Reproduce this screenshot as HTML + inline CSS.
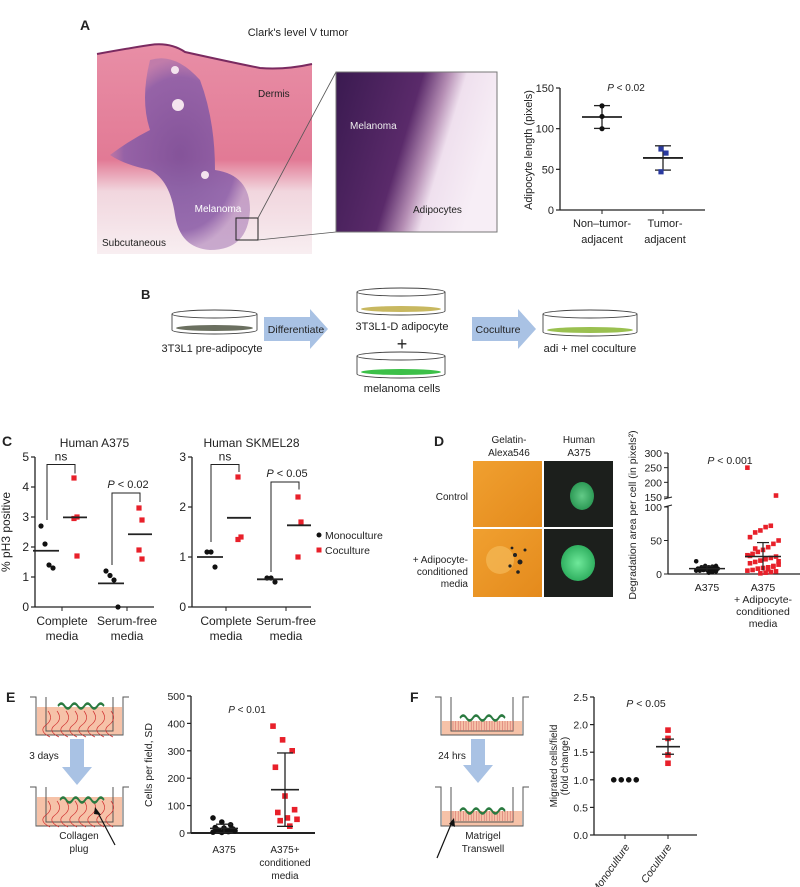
<!DOCTYPE html>
<html><head><meta charset="utf-8"><style>
body{margin:0;background:#fff}
svg{display:block;font-family:"Liberation Sans",sans-serif}
text{fill:#222}
</style></head><body>
<svg id="fig" width="800" height="887" viewBox="0 0 800 887" xmlns="http://www.w3.org/2000/svg">
<defs>
<radialGradient id="tum" cx="0.5" cy="0.5" r="0.5"><stop offset="0" stop-color="#7a4f9a"/><stop offset="0.8" stop-color="#8d5fa8"/><stop offset="1" stop-color="#a070b0" stop-opacity="0.6"/></radialGradient>
<linearGradient id="ins" x1="0" x2="1" y1="0" y2="0.3"><stop offset="0" stop-color="#3a1a50"/><stop offset="0.5" stop-color="#5a2a6a"/><stop offset="0.65" stop-color="#b68fb5"/><stop offset="0.75" stop-color="#efe0ee"/><stop offset="1" stop-color="#f7eef6"/></linearGradient>
<linearGradient id="dermis" x1="0" x2="0" y1="0" y2="1"><stop offset="0" stop-color="#e88ea6"/><stop offset="0.55" stop-color="#e27a95"/><stop offset="0.7" stop-color="#f1d6de"/><stop offset="1" stop-color="#f8eef1"/></linearGradient>
<linearGradient id="gel" x1="0" x2="1" y1="0" y2="1"><stop offset="0" stop-color="#f0a030"/><stop offset="1" stop-color="#e48a1c"/></linearGradient>
<radialGradient id="cell" cx="0.5" cy="0.5" r="0.5"><stop offset="0" stop-color="#6fe89a"/><stop offset="1" stop-color="#30b060"/></radialGradient>
</defs>

<!-- Panel A -->
<text x="80" y="30" font-size="14" font-weight="bold">A</text>
<text x="298" y="36" font-size="11" text-anchor="middle">Clark's level V tumor</text>
<g>
<path d="M97,54 Q130,48 150,45 Q170,42 185,52 Q230,62 260,68 Q285,70 312,64 L312,254 L97,254 Z" fill="url(#dermis)"/>
<path d="M97,54 Q130,48 150,45 Q170,42 185,52 Q230,62 260,68 Q285,70 312,64" fill="none" stroke="#7a2a60" stroke-width="2"/>
<path d="M150,60 Q175,52 200,80 Q215,120 215,170 Q250,175 250,210 Q248,250 210,250 Q180,248 175,215 Q170,180 150,170 Q125,165 110,155 Q130,140 150,130 Q140,100 150,60 Z" fill="url(#tum)" opacity="0.9"/>
<circle cx="178" cy="105" r="6" fill="#f4e4ee"/><circle cx="175" cy="70" r="4" fill="#f4e4ee"/><circle cx="205" cy="175" r="4" fill="#f4e4ee"/>
<rect x="236" y="218" width="22" height="22" fill="none" stroke="#222" stroke-width="1"/>
<text x="258" y="97" font-size="10" fill="#333">Dermis</text>
<text x="218" y="212" font-size="10" text-anchor="middle" style="fill:#fff">Melanoma</text>
<text x="102" y="246" font-size="10">Subcutaneous</text>
</g>
<line x1="258" y1="218" x2="336" y2="72" stroke="#555" stroke-width="0.8"/>
<line x1="258" y1="240" x2="336" y2="232" stroke="#555" stroke-width="0.8"/>
<g>
<rect x="336" y="72" width="161" height="160" fill="url(#ins)" stroke="#777"/>
<text x="350" y="129" font-size="10" style="fill:#eee">Melanoma</text>
<text x="413" y="213" font-size="10" fill="#333">Adipocytes</text>
</g>
<g id="chartA"></g>

<!-- Panel B -->
<text x="141" y="299" font-size="13" font-weight="bold">B</text>
<g id="panelB"></g>

<!-- Panel C -->
<text x="2" y="446" font-size="14" font-weight="bold">C</text>
<g id="chartC1"></g>
<g id="chartC2"></g>
<g>
<circle cx="319" cy="535" r="2.5" fill="#111"/><text x="325" y="539" font-size="10.5">Monoculture</text>
<rect x="316.5" y="547.5" width="5" height="5" fill="#e8202a"/><text x="325" y="554" font-size="10.5">Coculture</text>
</g>

<!-- Panel D -->
<text x="434" y="446" font-size="14" font-weight="bold">D</text>
<text x="509" y="443" font-size="10" text-anchor="middle">Gelatin-</text>
<text x="509" y="456" font-size="10" text-anchor="middle">Alexa546</text>
<text x="579" y="443" font-size="10" text-anchor="middle">Human</text>
<text x="579" y="456" font-size="10" text-anchor="middle">A375</text>
<text x="468" y="500" font-size="10" text-anchor="end">Control</text>
<text x="468" y="563" font-size="10" text-anchor="end">+ Adipocyte-</text>
<text x="468" y="575" font-size="10" text-anchor="end">conditioned</text>
<text x="468" y="587" font-size="10" text-anchor="end">media</text>
<g>
<rect x="473" y="461" width="69" height="66" fill="url(#gel)"/>
<rect x="544" y="461" width="69" height="66" fill="#1c1f1c"/>
<ellipse cx="582" cy="496" rx="12" ry="14" fill="url(#cell)" opacity="0.85"/>
<rect x="473" y="529" width="69" height="68" fill="url(#gel)"/>
<circle cx="500" cy="560" r="14" fill="#f6c060" opacity="0.6"/>
<g fill="#222"><circle cx="515" cy="555" r="2"/><circle cx="520" cy="562" r="2.5"/><circle cx="510" cy="566" r="1.6"/><circle cx="525" cy="550" r="1.5"/><circle cx="518" cy="572" r="1.8"/><circle cx="512" cy="548" r="1.4"/></g>
<rect x="544" y="529" width="69" height="68" fill="#1c1f1c"/>
<ellipse cx="578" cy="563" rx="17" ry="18" fill="url(#cell)"/>
</g>
<g id="chartD"></g>

<!-- Panel E -->
<text x="6" y="702" font-size="14" font-weight="bold">E</text>
<g id="wellsE"></g>
<g id="chartE"></g>

<!-- Panel F -->
<text x="410" y="702" font-size="14" font-weight="bold">F</text>
<g id="wellsF"></g>
<g id="chartF"></g>
</svg>

<script>
// ---- data ----
const aCategories = ["Non\u2013tumor-adjacent", "Tumor-adjacent"];
const aNonTumor = [128, 115, 100];
const aTumor = [75, 70, 47];
const aTicks = [0, 50, 100, 150];

const cA375MonoComplete = [2.7, 2.1, 1.4, 1.3];
const cA375CoComplete = [4.3, 3.0, 2.95, 1.7];
const cA375MonoSerum = [1.2, 1.05, 0.9, 0.0];
const cA375CoSerum = [3.3, 2.9, 1.9, 1.6];
const cA375Ticks = [0, 1, 2, 3, 4, 5];
const cSkMonoComplete = [1.1, 1.1, 0.8];
const cSkCoComplete = [2.6, 1.4, 1.35];
const cSkMonoSerum = [0.58, 0.58, 0.5];
const cSkCoSerum = [2.2, 1.7, 1.0];
const cSkTicks = [0, 1, 2, 3];

const dControl = [19, 12, 11, 10, 9, 9, 8, 8, 7, 7, 6, 6, 5, 5, 4, 3, 2, 12, 10, 8];
const dConditioned = [250, 155, 72, 70, 65, 62, 55, 50, 45, 40, 36, 33, 30, 28, 26, 24, 22, 20, 18, 16, 14, 12, 10, 9, 8, 6, 5, 4, 3, 2, 1, 38, 27, 19, 11, 7];
const dTicksLow = [0, 50, 100];
const dTicksHigh = [150, 200, 250, 300];

const eA375 = [55, 40, 30, 20, 18, 15, 12, 10, 8, 6, 5, 3, 2, 12];
const eConditioned = [390, 340, 300, 240, 135, 85, 75, 55, 50, 45, 25];
const eTicks = [0, 100, 200, 300, 400, 500];

const fMono = [1, 1, 1, 1];
const fCo = [1.9, 1.75, 1.45, 1.3];
const fTicks = [0.0, 0.5, 1.0, 1.5, 2.0, 2.5];

// ---- helpers ----
const NS = "http://www.w3.org/2000/svg";
function el(tag, attrs, parent, txt) {
  const e = document.createElementNS(NS, tag);
  for (const k in attrs) e.setAttribute(k, attrs[k]);
  if (txt !== undefined) e.textContent = txt;
  parent.appendChild(e);
  return e;
}
function mean(a) { return a.reduce((s, v) => s + v, 0) / a.length; }
function sd(a) { const m = mean(a); return Math.sqrt(a.reduce((s, v) => s + (v - m) * (v - m), 0) / (a.length - 1)); }
function lin(d0, d1, r0, r1) { return v => r0 + (v - d0) * (r1 - r0) / (d1 - d0); }
function yAxis(g, x, y, ticks, fmt, fs) {
  const top = Math.min(...ticks.map(y)), bot = Math.max(...ticks.map(y));
  const ax = el('line', {x1: x, y1: top, x2: x, y2: bot, stroke: '#222', 'stroke-width': 1.3}, g);
  
  
  ticks.forEach(t => {
    el('line', {x1: x - 4, y1: y(t), x2: x, y2: y(t), stroke: '#222', 'stroke-width': 1.2}, g);
    const tl = el('text', {x: x - 6, y: y(t) + 4, 'font-size': fs || 11, 'text-anchor': 'end'}, g, fmt ? fmt(t) : t);
    
    
  });
}
function dot(g, cx, cy, color, square, r) {
  r = r || 2.6;
  let m;
  if (square) m = el('rect', {x: cx - r, y: cy - r, width: 2 * r, height: 2 * r, fill: color}, g);
  else m = el('circle', {cx: cx, cy: cy, r: r, fill: color}, g);
  
  
}
function spread(n, i, w) { return n <= 1 ? 0 : (i - (n - 1) / 2) * w; }
function hline(g, x1, x2, yy, sw) { el('line', {x1: x1, y1: yy, x2: x2, y2: yy, stroke: '#222', 'stroke-width': sw || 1.8}, g); }
function text(g, x, y, s, fs, anchor, extra) {
  return el('text', Object.assign({x: x, y: y, 'font-size': fs, 'text-anchor': anchor || 'middle'}, extra || {}), g, s);
}
function ptext(g, x, y, val, fs) {
  const t = el('text', {x: x, y: y, 'font-size': fs || 10, 'text-anchor': 'middle'}, g);
  el('tspan', {'font-style': 'italic'}, t, 'P');
  el('tspan', {}, t, ' < ' + val);
  
  
}

// ---- Chart A ----
(function () {
  const g = document.getElementById('chartA');
  const y = lin(0, 150, 210, 88);
  const xs = [602, 663];
  yAxis(g, 560, y, aTicks);
  hline(g, 560, 705, 210, 1.3);
  xs.forEach(x => el('line', {x1: x, y1: 210, x2: x, y2: 214, stroke: '#222'}, g));
  const t = text(g, 532, 150, 'Adipocyte length (pixels)', 11, 'middle', {transform: 'rotate(-90 532 150)'});
  
  ptext(g, 626, 91, '0.02', 10);
  [[aNonTumor, '#111', false], [aTumor, '#2a3aa0', true]].forEach((s, i) => {
    const v = s[0], m = mean(v), e = sd(v);
    el('line', {x1: xs[i], y1: y(m - e), x2: xs[i], y2: y(m + e), stroke: '#222', 'stroke-width': 1.3}, g);
    hline(g, xs[i] - 8, xs[i] + 8, y(m + e), 1.3);
    hline(g, xs[i] - 8, xs[i] + 8, y(m - e), 1.3);
    hline(g, xs[i] - 20, xs[i] + 20, y(m), 1.8);
    v.forEach((val, j) => dot(g, xs[i] + (s[2] ? (j === 1 ? 3 : -2) : 0), y(val), s[1], s[2], 2.6));
  });
  text(g, 602, 227, 'Non\u2013tumor-', 11); text(g, 602, 243, 'adjacent', 11);
  text(g, 665, 227, 'Tumor-', 11); text(g, 665, 243, 'adjacent', 11);
})();

// ---- Panel B ----
(function () {
  const g = document.getElementById('panelB');
  function dish(x1, x2, y1, y2, fill) {
    const cx = (x1 + x2) / 2, rx = (x2 - x1) / 2, ry = 4;
    el('path', {d: `M${x1},${y1} L${x1},${y2} A${rx},${ry} 0 0 0 ${x2},${y2} L${x2},${y1}`, fill: '#fff', stroke: '#444', 'stroke-width': 0.9}, g);
    el('ellipse', {cx: cx, cy: y2 - 2, rx: rx - 4, ry: 3, fill: fill}, g);
    el('ellipse', {cx: cx, cy: y1, rx: rx, ry: ry, fill: '#fff', stroke: '#444', 'stroke-width': 0.9}, g);
  }
  dish(172, 257, 314, 330, '#6b7060');
  dish(357, 445, 292, 311, '#c8b860');
  dish(357, 445, 356, 374, '#3cc048');
  dish(543, 637, 314, 332, '#9ac050');
  function arrow(x1, x2, yc) {
    el('path', {d: `M${x1},${yc - 12} L${x2 - 18},${yc - 12} L${x2 - 18},${yc - 20} L${x2},${yc} L${x2 - 18},${yc + 20} L${x2 - 18},${yc + 12} L${x1},${yc + 12} Z`, fill: '#a9c2e4'}, g);
  }
  arrow(264, 328, 329);
  arrow(472, 536, 329);
  text(g, 212, 352, '3T3L1 pre-adipocyte', 11);
  text(g, 296, 333, 'Differentiate', 10.5);
  text(g, 402, 330, '3T3L1-D adipocyte', 11);
  text(g, 402, 350, '+', 18);
  text(g, 402, 392, 'melanoma cells', 11);
  text(g, 498, 333, 'Coculture', 10.5);
  text(g, 590, 352, 'adi + mel coculture', 11);
})();

// ---- Chart C ----
function chartC(id, ax, ticks, max, xs, groups, title, brackets) {
  const g = document.getElementById(id);
  const y = lin(0, max, 607, 457);
  yAxis(g, ax, y, ticks, null, 12);
  hline(g, ax, ax + 119, 607, 1.3);
  xs.forEach(x => el('line', {x1: x, y1: 607, x2: x, y2: 611, stroke: '#222'}, g));
  text(g, (ax + ax + 119) / 2, 447, title, 12);
  groups.forEach((gr, i) => {
    const xm = xs[i] - 15, xc = xs[i] + 13;
    gr[0].forEach((v, j) => dot(g, xm + spread(gr[0].length, j, 4), y(v), '#111', false, 2.6));
    gr[1].forEach((v, j) => dot(g, xc + (j % 2 ? 2 : -1), y(v), '#e8202a', true, 2.6));
    hline(g, xm - 14, xm + 12, y(mean(gr[0])), 1.8);
    hline(g, xc - 12, xc + 12, y(mean(gr[1])), 1.8);
    const b = brackets[i];
    el('path', {d: `M${xm},${y(b[0])} L${xm},${y(b[1])} L${xc},${y(b[1])} L${xc},${y(b[2])}`, fill: 'none', stroke: '#222', 'stroke-width': 1}, g);
    if (b[3] === 'ns') text(g, (xm + xc) / 2, y(b[1]) - 4, 'ns', 12);
    else ptext(g, (xm + xc) / 2 + 2, y(b[1]) - 5, b[3], 11);
    text(g, xs[i], 625, i === 0 ? 'Complete' : 'Serum-free', 12);
    text(g, xs[i], 640, 'media', 12);
  });
}
chartC('chartC1', 35, cA375Ticks, 5, [62, 127],
  [[cA375MonoComplete, cA375CoComplete], [cA375MonoSerum, cA375CoSerum]],
  'Human A375', [[2.9, 4.75, 4.45, 'ns'], [1.4, 3.8, 3.5, '0.02']]);
chartC('chartC2', 192, cSkTicks, 3, [226, 286],
  [[cSkMonoComplete, cSkCoComplete], [cSkMonoSerum, cSkCoSerum]],
  'Human SKMEL28', [[1.3, 2.85, 2.7, 'ns'], [0.7, 2.5, 2.35, '0.05']]);
(function () {
  const g = document.getElementById('chartC1');
  const t = text(g, 10, 532, '% pH3 positive', 12, 'middle', {transform: 'rotate(-90 10 532)'});
  
})();

// ---- Chart D ----
(function () {
  const g = document.getElementById('chartD');
  const yLow = lin(0, 100, 574, 507);
  const yHigh = lin(150, 300, 497, 453);
  const y = v => v <= 100 ? yLow(v) : yHigh(v);
  const ax = 668;
  el('line', {x1: ax, y1: 453, x2: ax, y2: 498, stroke: '#222', 'stroke-width': 1.3}, g);
  el('line', {x1: ax, y1: 506, x2: ax, y2: 574, stroke: '#222', 'stroke-width': 1.3}, g);
  el('line', {x1: ax - 4, y1: 499, x2: ax + 4, y2: 497, stroke: '#222'}, g);
  el('line', {x1: ax - 4, y1: 507, x2: ax + 4, y2: 505, stroke: '#222'}, g);
  dTicksLow.concat(dTicksHigh).forEach(t => {
    el('line', {x1: ax - 4, y1: y(t), x2: ax, y2: y(t), stroke: '#222'}, g);
    text(g, ax - 6, y(t) + 4, t, 10.5, 'end');
  });
  hline(g, ax, 800, 574, 1.3);
  const xs = [707, 763];
  const t = text(g, 636, 515, 'Degradation area per cell (in pixels\u00b2)', 10.5, 'middle', {transform: 'rotate(-90 636 515)'});
  
  ptext(g, 730, 464, '0.001', 10.5);
  [[dControl, '#111', false], [dConditioned, '#e8202a', true]].forEach((s, i) => {
    const v = s[0];
    const inRange = v.filter(q => q <= 100), e = sd(inRange);
    v.forEach((val, j) => dot(g, xs[i] + ((j * 37) % 13 - 6) * (i ? 2.6 : 1.8), y(val), s[1], s[2], 2.3));
    el('line', {x1: xs[i], y1: y(Math.max(0, mean(inRange) - e)), x2: xs[i], y2: y(mean(inRange) + e), stroke: '#222', 'stroke-width': 1.2}, g);
    hline(g, xs[i] - 6, xs[i] + 6, y(mean(inRange) + e), 1.2);
    hline(g, xs[i] - 18, xs[i] + 18, y(mean(inRange)), 1.5);
  });
  text(g, 707, 591, 'A375', 10.5);
  text(g, 763, 591, 'A375', 10.5);
  text(g, 763, 603, '+ Adipocyte-', 10.5);
  text(g, 763, 615, 'conditioned', 10.5);
  text(g, 763, 627, 'media', 10.5);
})();

// ---- Wells E & F ----
function well(g, x1, x2, y1, y2, fillTop, style) {
  el('rect', {x: x1 + 1, y: fillTop, width: x2 - x1 - 2, height: y2 - fillTop, fill: '#f6c2a8'}, g);
  el('path', {d: `M${x1 - 6},${y1} L${x1},${y1} L${x1},${y2} L${x2},${y2} L${x2},${y1} L${x2 + 6},${y1}`, fill: 'none', stroke: '#555', 'stroke-width': 1}, g);
  el('path', {d: `M${x1 + 10},${y1} L${x1 + 10},${y2 - 4} L${x2 - 10},${y2 - 4} L${x2 - 10},${y1}`, fill: 'none', stroke: '#555', 'stroke-width': 1}, g);
  if (style === 'collagen') {
    for (let i = 0; i < 8; i++) el('path', {d: `M${x1 + 12 + i * 9},${fillTop + 4} q6,8 -2,14 t4,12`, fill: 'none', stroke: '#d03030', 'stroke-width': 0.7}, g);
  } else {
    for (let i = 0; i < 24; i++) el('line', {x1: x1 + 12 + i * 2.6, y1: fillTop, x2: x1 + 12 + i * 2.6, y2: fillTop + 10, stroke: '#d06060', 'stroke-width': 0.5}, g);
  }
}
function cellsBlob(g, x1, x2, yy) {
  el('path', {d: `M${x1},${yy} q5,-5 10,0 t10,0 t10,0 t10,0 t10,0 t10,0 t10,0`, fill: 'none', stroke: '#2a7a40', 'stroke-width': 2.5, transform: `scale(${(x2 - x1) / 70},1) translate(${x1 * (70 / (x2 - x1) - 1)},0)`}, g);
}
function downArrow(g, cx, y1, y2) {
  el('path', {d: `M${cx - 7},${y1} L${cx + 7},${y1} L${cx + 7},${y2 - 18} L${cx + 15},${y2 - 18} L${cx},${y2} L${cx - 15},${y2 - 18} L${cx - 7},${y2 - 18} Z`, fill: '#a9c2e4'}, g);
}
(function () {
  const g = document.getElementById('wellsE');
  well(g, 36, 123, 697, 735, 707, 'collagen');
  cellsBlob(g, 58, 104, 706);
  downArrow(g, 77, 739, 785);
  text(g, 44, 759, '3 days', 10);
  well(g, 36, 123, 787, 826, 797, 'collagen');
  cellsBlob(g, 60, 104, 800);
  el('line', {x1: 115, y1: 845, x2: 97, y2: 811, stroke: '#111', 'stroke-width': 1.2}, g);
  el('path', {d: 'M95,807 L101,815 L94,814 Z', fill: '#111'}, g);
  text(g, 79, 839, 'Collagen', 10); text(g, 79, 852, 'plug', 10);
})();
(function () {
  const g = document.getElementById('wellsF');
  well(g, 441, 523, 697, 735, 721, 'matrigel');
  cellsBlob(g, 460, 505, 718);
  downArrow(g, 478, 739, 783);
  text(g, 452, 759, '24 hrs', 10);
  well(g, 441, 523, 787, 826, 811, 'matrigel');
  cellsBlob(g, 460, 505, 811);
  el('line', {x1: 437, y1: 858, x2: 452, y2: 822, stroke: '#111', 'stroke-width': 1.2}, g);
  el('path', {d: 'M454,818 L455,827 L449,824 Z', fill: '#111'}, g);
  text(g, 483, 839, 'Matrigel', 10); text(g, 483, 852, 'Transwell', 10);
})();

// ---- Chart E ----
(function () {
  const g = document.getElementById('chartE');
  const y = lin(0, 500, 833, 696);
  yAxis(g, 191, y, eTicks, null, 10.5);
  hline(g, 191, 315, 833, 2);
  const xs = [224, 285];
  const t = text(g, 152, 765, 'Cells per field, SD', 10.5, 'middle', {transform: 'rotate(-90 152 765)'});
  
  ptext(g, 247, 713, '0.01', 10);
  [[eA375, '#111', false], [eConditioned, '#e8202a', true]].forEach((s, i) => {
    const v = s[0], m = mean(v), e = sd(v);
    v.forEach((val, j) => dot(g, xs[i] + ((j * 37) % 11 - 5) * (i ? 2.4 : 2.2), y(val), s[1], s[2], 2.8));
    el('line', {x1: xs[i], y1: y(Math.max(0, m - e)), x2: xs[i], y2: y(m + e), stroke: '#222', 'stroke-width': 1.3}, g);
    hline(g, xs[i] - 8, xs[i] + 8, y(m + e), 1.3);
    hline(g, xs[i] - 8, xs[i] + 8, y(Math.max(0, m - e)), 1.3);
    hline(g, xs[i] - 14, xs[i] + 14, y(m), 1.6);
  });
  text(g, 224, 853, 'A375', 10);
  text(g, 285, 853, 'A375+', 10);
  text(g, 285, 866, 'conditioned', 10);
  text(g, 285, 879, 'media', 10);
})();

// ---- Chart F ----
(function () {
  const g = document.getElementById('chartF');
  const y = lin(0, 2.5, 835, 697);
  yAxis(g, 594, y, fTicks, v => v.toFixed(1), 10.5);
  hline(g, 594, 697, 835, 1.3);
  const xs = [625, 668];
  xs.forEach(x => el('line', {x1: x, y1: 835, x2: x, y2: 839, stroke: '#222'}, g));
  const t = text(g, 557, 766, 'Migrated cells/field', 10, 'middle', {transform: 'rotate(-90 557 766)'});
  
  text(g, 568, 766, '(fold change)', 10, 'middle', {transform: 'rotate(-90 568 766)'});
  ptext(g, 646, 707, '0.05', 10.5);
  fMono.forEach((v, j) => dot(g, xs[0] + spread(fMono.length, j, 7.5), y(v), '#111', false, 2.8));
  fCo.forEach((v, j) => dot(g, xs[1], y(v), '#e8202a', true, 2.8));
  const m = mean(fCo), se = sd(fCo) / Math.sqrt(fCo.length);
  el('line', {x1: xs[1], y1: y(m - se), x2: xs[1], y2: y(m + se), stroke: '#222', 'stroke-width': 1.3}, g);
  hline(g, xs[1] - 6, xs[1] + 6, y(m + se), 1.3);
  hline(g, xs[1] - 6, xs[1] + 6, y(m - se), 1.3);
  hline(g, xs[1] - 12, xs[1] + 12, y(m), 1.6);
  text(g, 630, 847, 'Monoculture', 10.5, 'end', {transform: 'rotate(-55 630 847)', 'font-style': 'italic'});
  text(g, 672, 847, 'Coculture', 10.5, 'end', {transform: 'rotate(-55 672 847)', 'font-style': 'italic'});
})();
</script>
</body></html>
